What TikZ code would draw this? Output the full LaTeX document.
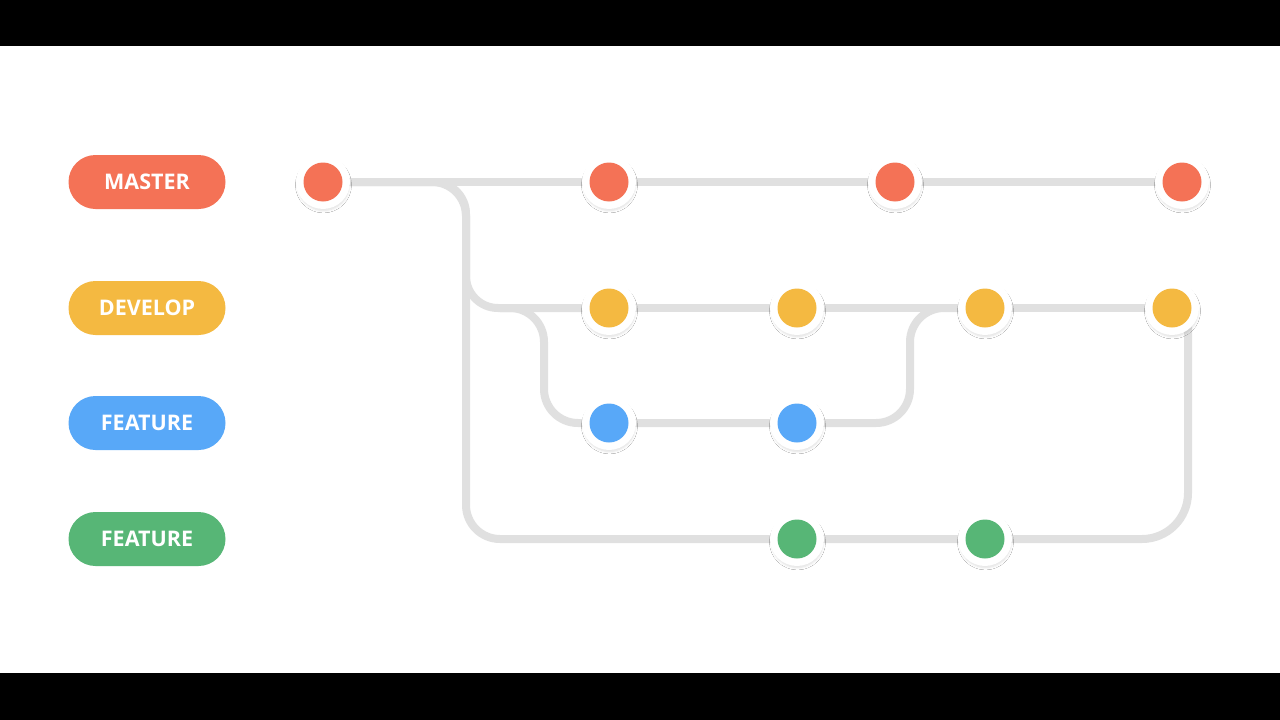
\documentclass[tikz,border=0pt]{standalone}
\usepackage{fontspec}
\setsansfont{Open Sans}
\usetikzlibrary{backgrounds,shadows.blur}
\definecolor{cmaster}{HTML}{F47256}
\definecolor{cdevelop}{HTML}{F4B941}
\definecolor{cfeat}{HTML}{58A8F8}
\definecolor{cgreen}{HTML}{57B676}
\definecolor{cline}{HTML}{E0E0E0}
\tikzset{
  commit/.style={circle, fill=white, minimum size=54pt, inner sep=0pt,
    path picture={\fill[#1] (path picture bounding box.center) circle (19.5pt);},
    blur shadow={shadow xshift=0.5pt, shadow yshift=-3pt, shadow blur steps=6, shadow blur radius=2.5pt, shadow opacity=13, shadow scale=0.95}},
  pill/.style={rounded corners=27pt, fill=#1, minimum width=157pt, minimum height=54pt, text=white,
    font=\sffamily\bfseries\fontsize{21.5}{21.5}\selectfont},
  branch/.style={draw=cline, line width=8pt, rounded corners=#1},
  branch/.default=34pt
}
\begin{document}
\begin{tikzpicture}[x=1pt,y=-1pt]
\useasboundingbox (0,0) rectangle (1280,720);

% labels
\node[pill=cmaster] (lm) at (147,182) {MASTER};
\node[pill=cdevelop] (ld) at (147,308) {DEVELOP};
\node[pill=cfeat] (lf) at (147,423) {FEATURE};
\node[pill=cgreen] (lg) at (147,539) {FEATURE};

% commits
\node[commit=cmaster] (m1) at (323,182) {};
\node[commit=cmaster] (m2) at (609,182) {};
\node[commit=cmaster] (m3) at (895,182) {};
\node[commit=cmaster] (m4) at (1182,182) {};
\node[commit=cdevelop] (d1) at (609,308) {};
\node[commit=cdevelop] (d2) at (797,308) {};
\node[commit=cdevelop] (d3) at (985,308) {};
\node[commit=cdevelop] (d4) at (1172,308) {};
\node[commit=cfeat] (f1) at (609,423) {};
\node[commit=cfeat] (f2) at (797,423) {};
\node[commit=cgreen] (g1) at (797,539) {};
\node[commit=cgreen] (g2) at (985,539) {};

% corner points
\coordinate (a1) at (466,182);
\coordinate (a2) at (466,308);
\coordinate (a3) at (466,539);
\coordinate (b0) at (500,308);
\coordinate (b1) at (544,308);
\coordinate (b2) at (544,423);
\coordinate (c1) at (910,423);
\coordinate (c2) at (910,308);
\coordinate (e1) at (1188,539);
\coordinate (e2) at (1188,308);

\begin{scope}[on background layer]
\fill[white] (0,0) rectangle (1280,720);
\fill[black] (0,0) rectangle (1280,46);
\fill[black] (0,673) rectangle (1280,720);
\draw[branch] (m1.center) -- (m4.center);
\draw[branch] (m1.center) -- (a1) -- (a3) -- (g1.center);
\draw[branch=32pt] (m1.center) -- (a1) -- (a2) -- (d1.center);
\draw[branch] (d1.center) -- (d4.center);
\draw[branch] (b0) -- (b1) -- (b2) -- (f1.center);
\draw[branch] (f1.center) -- (f2.center) -- (c1) -- (c2) -- (d3.center);
\draw[branch=46pt] (g1.center) -- (g2.center) -- (e1) -- (e2);
\end{scope}
\end{tikzpicture}
\end{document}
